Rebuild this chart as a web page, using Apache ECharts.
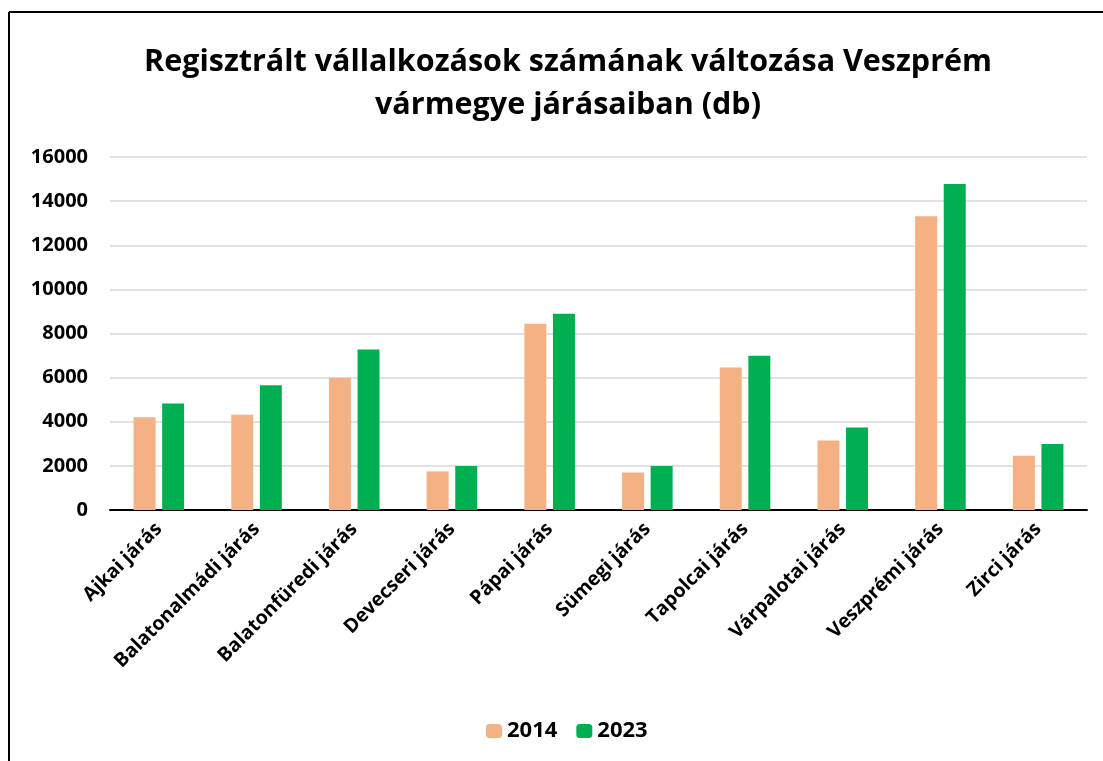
<!DOCTYPE html>
<html>
<head>
<meta charset="utf-8">
<title>Regisztrált vállalkozások</title>
<script src="https://cdn.jsdelivr.net/npm/echarts@6/dist/echarts.min.js"></script>
<style>
    html, body { margin: 0; padding: 0; background: #fff; }
    #chart { width: 1103px; height: 761px; }
</style>
</head>
<body>
<div id="chart"></div>
<script>
    // járások és a két év adatai (db)
    const categories = ['Ajkai járás', 'Balatonalmádi járás', 'Balatonfüredi járás', 'Devecseri járás', 'Pápai járás',
        'Sümegi járás', 'Tapolcai járás', 'Várpalotai járás', 'Veszprémi járás', 'Zirci járás']
    const seriesNames = ['2014', '2023']
    const values2014 = [4200, 4320, 6000, 1750, 8440, 1700, 6460, 3150, 13310, 2460]
    const values2023 = [4830, 5650, 7280, 2000, 8900, 1990, 6990, 3740, 14780, 2990]
    const yMin = 0
    const yMax = 16000
    const yStep = 2000

    const font = 'Open Sans'
    const chart = echarts.init(document.getElementById('chart'))

    const options = {
        animation: false,
        title: {
            text: 'Regisztrált vállalkozások számának változása Veszprém\nvármegye járásaiban (db)',
            left: 563,
            top: 36,
            textAlign: 'center',
            textStyle: { fontFamily: font, fontWeight: 'bold', fontSize: 30.5, color: '#000', lineHeight: 43 }
        },
        legend: {
            data: seriesNames,
            left: 481,
            top: 715,
            itemWidth: 16,
            itemHeight: 14,
            itemGap: 19,
            textStyle: { fontFamily: font, fontWeight: 'bold', fontSize: 22, color: '#000' }
        },
        grid: { left: 110, right: 16, top: 157, bottom: 251 },
        xAxis: {
            type: 'category',
            data: categories,
            axisLine: { lineStyle: { color: '#000', width: 2 } },
            axisTick: { show: false },
            axisLabel: {
                interval: 0,
                rotate: 45,
                margin: 16,
                fontFamily: font,
                fontWeight: 'bold',
                fontSize: 19.5,
                color: '#000'
            }
        },
        yAxis: {
            type: 'value',
            min: yMin,
            max: yMax,
            interval: yStep,
            axisLine: { show: false },
            axisTick: { show: false },
            splitLine: { lineStyle: { color: '#d9d9d9', width: 1.5 } },
            axisLabel: {
                margin: 22,
                formatter: (v) => String(v),
                fontFamily: font,
                fontWeight: 'bold',
                fontSize: 20,
                color: '#000'
            }
        },
        series: [
            {
                name: seriesNames[0],
                type: 'bar',
                data: values2014,
                barWidth: '22.5%',
                barGap: '30%',
                itemStyle: { color: '#f4b183' }
            },
            {
                name: seriesNames[1],
                type: 'bar',
                data: values2023,
                barWidth: '22.5%',
                itemStyle: { color: '#00b050' }
            }
        ],
        graphic: [
            // a kép kerete (bal és felső szél)
            { type: 'line', shape: { x1: 9, y1: 12, x2: 1103, y2: 12 }, style: { stroke: '#000', lineWidth: 2 } },
            { type: 'line', shape: { x1: 9, y1: 12, x2: 9, y2: 761 }, style: { stroke: '#000', lineWidth: 2 } }
        ]
    }
    chart.setOption(options)
</script>
</body>
</html>
